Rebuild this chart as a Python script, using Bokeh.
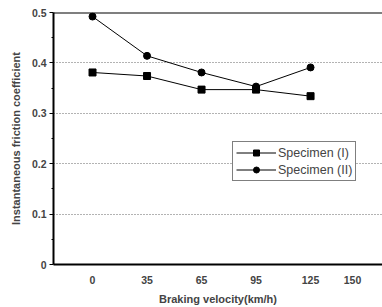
from bokeh.plotting import figure
from bokeh.models import Range1d, Span, FixedTicker, Legend, LegendItem
from bokeh.embed import file_html
from bokeh.resources import INLINE

# data
speed_labels = ["0", "35", "65", "95", "125", "150"]
tick_pos = [0, 1, 2, 3, 4, 4.77]
x_idx = [0, 1, 2, 3, 4]
spec1 = [0.381, 0.374, 0.347, 0.347, 0.334]
spec2 = [0.492, 0.414, 0.381, 0.353, 0.391]
y_ticks = [0.0, 0.1, 0.2, 0.3, 0.4, 0.5]

p = figure(width=382, height=307, output_backend="svg", toolbar_location=None,
           x_range=Range1d(-0.716, 5.32), y_range=Range1d(0, 0.5),
           min_border_left=53, min_border_right=0, min_border_top=12, min_border_bottom=41)
p.outline_line_color = None
p.background_fill_color = "white"
p.border_fill_color = "white"

font = "Liberation Sans"

# x axis
p.xaxis.ticker = FixedTicker(ticks=tick_pos)
p.xaxis.major_label_overrides = {t: l for t, l in zip(tick_pos, speed_labels)}
p.xaxis.axis_line_width = 2
p.xaxis.major_tick_line_color = None
p.xaxis.minor_tick_line_color = None
p.xaxis.major_label_text_font = font
p.xaxis.major_label_text_font_style = "bold"
p.xaxis.major_label_text_font_size = "10.5px"
p.xaxis.axis_label = "Braking velocity(km/h)"
p.xaxis.axis_label_text_font = font
p.xaxis.axis_label_text_font_style = "bold"
p.xaxis.axis_label_text_font_size = "11px"
p.xaxis.axis_label_standoff = 6
p.xaxis.major_label_standoff = 5

# y axis
p.yaxis.ticker = FixedTicker(ticks=y_ticks, minor_ticks=[0.05, 0.15, 0.25, 0.35, 0.45])
p.yaxis.axis_line_width = 2
p.yaxis.major_tick_out = 4
p.yaxis.major_tick_in = 0
p.yaxis.minor_tick_out = 2
p.yaxis.minor_tick_in = 0
p.yaxis.major_label_text_font = font
p.yaxis.major_label_text_font_style = "bold"
p.yaxis.major_label_text_font_size = "10.5px"
p.yaxis.major_label_standoff = 3
p.yaxis.axis_label = "Instantaneous friction coefficient"
p.yaxis.axis_label_text_font = font
p.yaxis.axis_label_text_font_style = "bold"
p.yaxis.axis_label_text_font_size = "11px"
p.yaxis.axis_label_standoff = 7
p.yaxis.formatter.use_scientific = False

p.xgrid.grid_line_color = None
p.ygrid.ticker = FixedTicker(ticks=[0.1, 0.2, 0.3, 0.4])
p.ygrid.grid_line_color = "#666666"
p.ygrid.grid_line_dash = "1 2"
p.ygrid.grid_line_width = 1

# top line
p.add_layout(Span(location=0.5, dimension="width", line_color="black", line_width=2))

l1 = p.line(x_idx, spec1, line_color="black", line_width=1)
m1 = p.scatter(x_idx, spec1, marker="square", size=7, color="black")
l2 = p.line(x_idx, spec2, line_color="black", line_width=1)
m2 = p.scatter(x_idx, spec2, marker="circle", size=7, color="black")

legend = Legend(items=[LegendItem(label="Specimen (I)", renderers=[l1, m1]),
                       LegendItem(label="Specimen (II)", renderers=[l2, m2])],
                location=(179, 83), border_line_color="black", border_line_width=1.5,
                label_text_font=font, label_text_font_size="12.5px",
                glyph_width=40, glyph_height=15, label_height=15, spacing=2,
                padding=3, margin=0, label_standoff=2, background_fill_alpha=1)
p.add_layout(legend)

open("out.html", "w").write(file_html(p, INLINE))
